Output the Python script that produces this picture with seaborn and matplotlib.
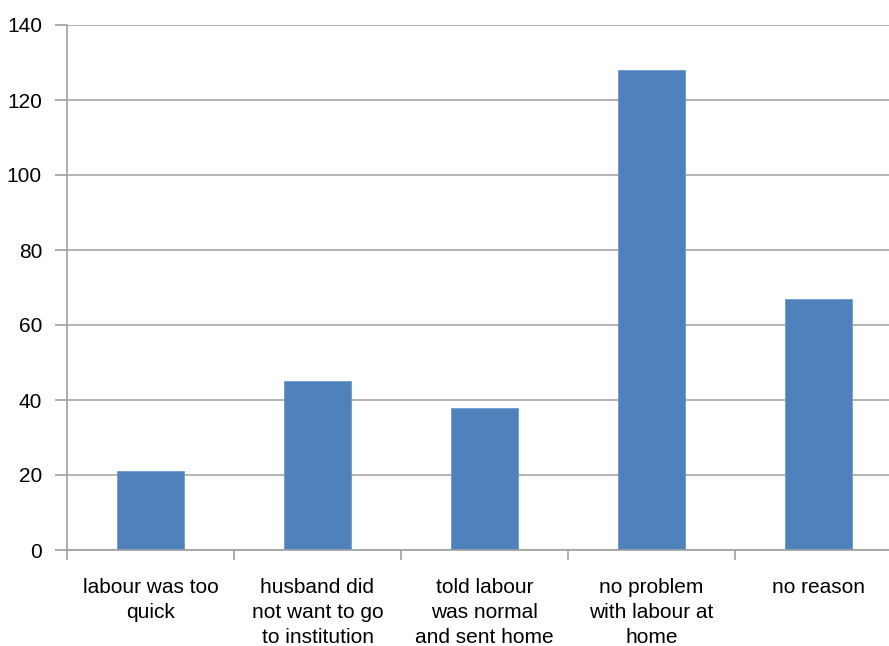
import matplotlib
matplotlib.use("Agg")
import matplotlib.pyplot as plt
import seaborn as sns
import pandas as pd
import numpy as np

categories = ["labour was too\nquick", "husband did\nnot want to go\nto institution",
              "told labour\nwas normal\nand sent home", "no problem\nwith labour at\nhome", "no reason"]
values = [21, 45, 38, 128, 67]
yticks = [0, 20, 40, 60, 80, 100, 120, 140]

sns.set_theme(style="white")
plt.rcParams['font.family'] = ['Liberation Sans', 'DejaVu Sans']

df = pd.DataFrame({"cat": categories, "val": values})
fig = plt.figure(figsize=(8.89, 6.46), dpi=100)
ax = fig.add_axes([67/889, 96/646, 835/889, 525/646])
sns.barplot(data=df, x="cat", y="val", color="#4F81BD", saturation=1, width=0.40, ax=ax)
ax.set_xlim(-0.5, 4.5)
ax.set_ylim(0, 140)
ax.set_yticks(yticks)
ax.set_xlabel("")
ax.set_ylabel("")
ax.yaxis.grid(True, color="#a6a6a6", linewidth=1.2)
ax.set_axisbelow(True)
for s in ["top", "right"]:
    ax.spines[s].set_visible(False)
for s in ["left", "bottom"]:
    ax.spines[s].set_color("#a0a0a0")
    ax.spines[s].set_linewidth(1.2)
ax.tick_params(axis="y", which="major", length=9, color="#a0a0a0", width=1.2,
               labelsize=15, pad=9, left=True, labelcolor="black")
ax.tick_params(axis="x", which="major", length=0, labelsize=15, pad=20, labelcolor="black")
ax.set_xticks(np.arange(-0.5, 5.0, 1.0), minor=True)
ax.tick_params(axis="x", which="minor", length=7, color="#a0a0a0", width=1.2, bottom=True)
for t in ax.get_xticklabels():
    t.set_multialignment("center")
    t.set_linespacing(1.4)
for b in ax.patches:
    b.set_edgecolor("#6f9bd0")
    b.set_linewidth(0.6)
fig.savefig("out.png", dpi=100)
